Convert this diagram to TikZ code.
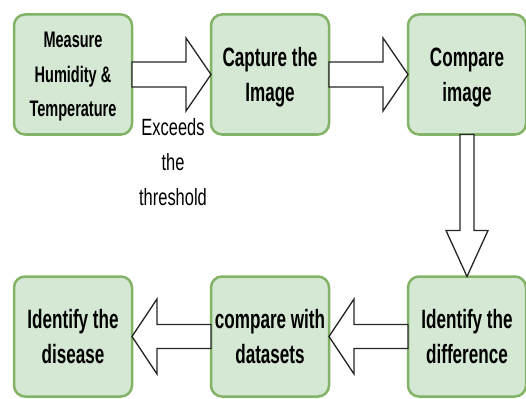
\documentclass[tikz,border=0pt]{standalone}
\usepackage{fontspec}
\setmainfont{Liberation Sans}
\newfontfamily\narrowfont[FakeStretch=0.645]{Liberation Sans}
\newfontfamily\thinfont[FakeStretch=0.7]{Liberation Sans}
\usetikzlibrary{calc}

\definecolor{boxfill}{HTML}{D5E8D4}
\definecolor{boxline}{HTML}{82B366}

% hollow block arrow: from, to, shaft half width, head half width, head length
\newcommand{\flexarrow}[5]{%
  \coordinate (fs) at (#1);
  \coordinate (ft) at (#2);
  \coordinate (fh) at ($(ft)!#5!(fs)$);
  \draw[block arrow] ($(fs)!#3!90:(ft)$) -- ($(fh)!#3!90:(ft)$) -- ($(fh)!#4!90:(ft)$) -- (ft)
    -- ($(fh)!#4!-90:(ft)$) -- ($(fh)!#3!-90:(ft)$) -- ($(fs)!#3!-90:(ft)$) -- cycle;
}

\begin{document}
\begin{tikzpicture}[x=1pt,y=-1pt,node distance=197pt,
    box/.style={draw=boxline,fill=boxfill,line width=2.5pt,rounded corners=11pt,
      minimum width=118pt,minimum height=120pt,inner sep=0pt,outer sep=0pt,align=center,
      text depth=0pt,font=\narrowfont\bfseries\fontsize{26.5}{35}\selectfont},
    block arrow/.style={draw=black!85,fill=white,line width=1.3pt,line join=miter}]
  \useasboundingbox (0,0) rectangle (526,398);

  \node[box,font=\narrowfont\bfseries\fontsize{22.5}{34.5}\selectfont] (meas) at (73,74.5) {Measure\\Humidity \&\\Temperature};
  \node[box] (cap) [right of=meas] {Capture the\\Image};
  \node[box] (cmp) [right of=cap] {Compare\\image};
  \node[box] (diff) [below of=cmp,node distance=262pt] {Identify the\\difference};
  \node[box] (data) [left of=diff] {compare with\\datasets};
  \node[box] (dis) [left of=data] {Identify the\\disease};

  \node[align=center,font=\thinfont\fontsize{23.5}{35}\selectfont] (thr) at (173,162) {Exceeds\\the\\threshold};

  \flexarrow{meas.east}{cap.west}{12.5pt}{36.5pt}{25pt}
  \flexarrow{cap.east}{cmp.west}{12.5pt}{36.5pt}{25pt}
  \flexarrow{cmp.south}{diff.north}{7pt}{21pt}{46pt}
  \flexarrow{diff.west}{data.east}{12pt}{37.5pt}{25pt}
  \flexarrow{data.west}{dis.east}{12pt}{37.5pt}{25pt}
\end{tikzpicture}
\end{document}
